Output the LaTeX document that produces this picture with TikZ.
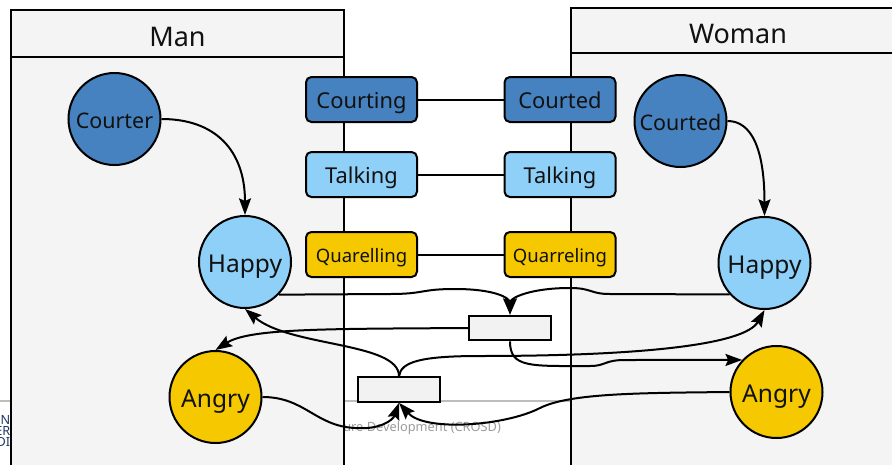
\documentclass[tikz,border=0pt]{standalone}
\usepackage{fontspec}
\setmainfont{Noto Sans}
\usetikzlibrary{arrows.meta}

\definecolor{laneFill}{HTML}{F4F4F4}
\definecolor{boxFill}{HTML}{F2F2F2}
\definecolor{darkBlue}{HTML}{4682C0}
\definecolor{lightBlue}{HTML}{8FD0F8}
\definecolor{amber}{HTML}{F5C800}
\definecolor{ink}{HTML}{111111}
\definecolor{ruleGray}{HTML}{BDBDBD}
\definecolor{footGray}{HTML}{9C9C9C}
\definecolor{navy}{HTML}{1F3A68}

\tikzset{
  lane/.style={draw=black, line width=1.5pt, fill=laneFill},
  laneline/.style={draw=black, line width=1.5pt},
  title/.style={font=\fontsize{20.25}{24}\selectfont, text=ink, inner sep=0pt},
  state/.style={circle, draw=black, line width=1.5pt, minimum size=69pt,
    inner sep=0pt, text=ink},
  % fixed text boxes keep capitals slightly below the node centre
  bigstate/.style={state, font=\fontsize{18.4}{22}\selectfont,
    text height=19.9pt, text depth=3.7pt},
  smallstate/.style={state, font=\fontsize{16.1}{19}\selectfont,
    text height=17.4pt, text depth=3.2pt},
  rolebox/.style={rectangle, rounded corners=4pt, draw=black, line width=1.5pt,
    minimum width=83.25pt, minimum height=33.75pt, inner sep=0pt, text=ink,
    font=\fontsize{16.4}{19}\selectfont, text height=17.4pt, text depth=3.3pt},
  smallrole/.style={rolebox, font=\fontsize{13.9}{17}\selectfont,
    text height=14.8pt, text depth=2.8pt},
  trans/.style={rectangle, draw=black, line width=1.5pt, fill=boxFill,
    minimum width=61.5pt, minimum height=18.5pt, inner sep=0pt},
  link/.style={draw=black, line width=1.5pt},
  flow/.style={draw=black, line width=1.5pt, line join=round,
    -{Stealth[length=12.5pt,width=9pt,inset=2pt]}},
}

\begin{document}
\begin{tikzpicture}[x=0.75pt, y=-0.75pt]
\useasboundingbox (0,0) rectangle (892,464);
\clip (0,0) rectangle (892,464);
\fill[white] (0,0) rectangle (892,464);

% page rule and footer lying under the swimlanes
\draw[ruleGray, line width=1.1pt] (0,401) -- (892,401);
\node[anchor=base west, inner sep=0pt, text=footGray,
  font=\fontsize{9.6}{12}\selectfont] (footer) at (343,431.5) {ure Development (CROSD)};
\begin{scope}[every node/.style={anchor=east, inner sep=0pt, text=navy,
    font=\bfseries\fontsize{9.5}{11}\selectfont}]
  \node (logoA) at (10.5,420) {N};
  \node (logoB) at (10.5,431) {ER};
  \node (logoC) at (10.5,442) {DI};
\end{scope}

% swimlanes
\draw[lane] (11,10) rectangle (344,480);
\draw[laneline] (11,57) -- (344,57);
\node[title] (manTitle) at (177.5,37) {Man};
\draw[lane] (571,7.5) rectangle (905,480);
\draw[laneline] (571,52.5) -- (905,52.5);
\node[title] (womanTitle) at (738,34) {Woman};

% states of each partner
\node[smallstate, fill=darkBlue] (courter) at (114.5,119) {Courter};
\node[bigstate, fill=lightBlue] (happyL) at (245,262) {Happy};
\node[bigstate, fill=amber] (angryL) at (215.5,397) {Angry};
\node[smallstate, fill=darkBlue] (courted) at (680.5,121) {Courted};
\node[bigstate, fill=lightBlue] (happyR) at (764.5,263) {Happy};
\node[bigstate, fill=amber] (angryR) at (776.5,392) {Angry};

% paired roles
\node[rolebox, fill=darkBlue] (courting) at (361.5,99.5) {Courting};
\node[rolebox, fill=darkBlue] (courtedRole) at (560,99.5) {Courted};
\node[rolebox, fill=lightBlue] (talkL) at (361.5,174.5) {Talking};
\node[rolebox, fill=lightBlue] (talkR) at (560,174.5) {Talking};
\node[smallrole, fill=amber] (quarL) at (361.5,254.5) {Quarelling};
\node[smallrole, fill=amber] (quarR) at (560,254.5) {Quarreling};

\draw[link] (courting) -- (courtedRole);
\draw[link] (talkL) -- (talkR);
\draw[link] (quarL) -- (quarR);

% transitions
\node[trans] (tUp) at (510,328) {};
\node[trans] (tLow) at (399,389.5) {};

% flows
\draw[flow] (courter.east) .. controls (215,119) and (245,150) .. (happyL.north);
\draw[flow] (courted.east) .. controls (752,121) and (764.5,150) .. (happyR.north);

\draw[flow] (happyL.-44) -- (390,294) .. controls (425,294) and (420,289) .. (455,289)
  .. controls (495,289) and (509,298) .. (tUp.north);
\draw[flow] (happyR.-138) -- (610,294) .. controls (590,294) and (592,288) .. (570,288)
  .. controls (530,288) and (511,298) .. (tUp.north);

\draw[flow] (tUp.west) .. controls (330,329) and (250,328) .. (angryL.north);
\draw[flow] (tUp.south) .. controls (510,368) and (530,366) .. (590,366)
  .. controls (606,366) and (604,360) .. (625,360) -- (angryR.137);

\draw[flow] (tLow.north) .. controls (399,342) and (290,347) .. (happyL.south);
\draw[flow] (tLow.north) .. controls (401,362) and (420,356) .. (480,356)
  .. controls (640,356) and (745,345) .. (happyR.south);

\draw[flow] (angryL.east) .. controls (305,397) and (315,426) .. (355,428)
  .. controls (380,430) and (393,420) .. (tLow.south);
\draw[flow] (angryR.west) .. controls (640,393) and (570,393) .. (540,408)
  .. controls (505,426) and (425,432) .. (tLow.south);
\end{tikzpicture}
\end{document}
